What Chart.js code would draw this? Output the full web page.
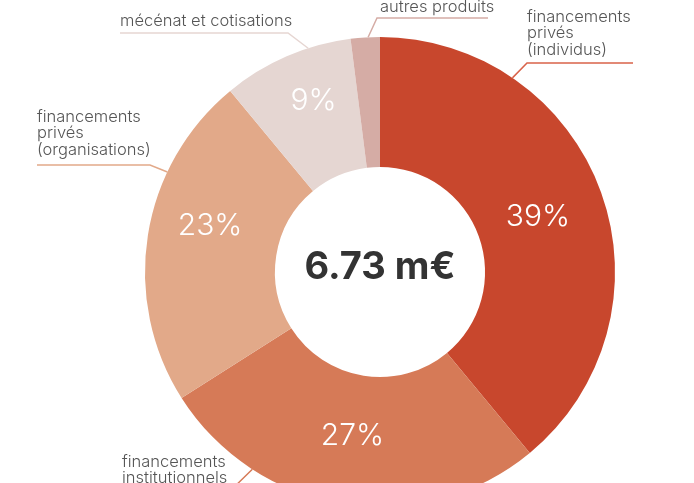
<!DOCTYPE html>
<html>
<head>
<meta charset="utf-8">
<script src="https://cdn.jsdelivr.net/npm/chart.js"></script>
<style>
  html, body { margin: 0; padding: 0; background: #fff; overflow: hidden; }
  #wrap { width: 694px; height: 483px; overflow: hidden; }
  canvas { display: block; }
</style>
</head>
<body>
<div id="wrap"><canvas id="chart" width="694" height="520"></canvas></div>
<script>
// data
const categories = [
    "financements privés (individus)",
    "financements institutionnels",
    "financements privés (organisations)",
    "mécénat et cotisations",
    "autres produits",
];
const shares = [39, 27, 23, 9, 2];
const percentLabels = ["39%", "27%", "23%", "9%", ""];
const totalLabel = "6.73 m€";

const sliceColors = ["#c8472d", "#d67a57", "#e2a989", "#e5d6d2", "#d5aca5"];
const leaderColors = ["#d9634a", "#d67a57", "#e2a989", "#e6d6d2", "#d5aca5"];

// label layout: text lines, text x, first line centre y, anchor angle on the ring (deg from top),
// elbow point and far end of the horizontal run
const labelLayout = [
    { lines: ["financements", "privés", "(individus)"], x: 527, y: 17, angle: 34.3, elbow: [527, 63], end: 633 },
    { lines: ["financements", "institutionnels"], x: 122, y: 462, angle: 212.9, elbow: [227, 494], end: 122 },
    { lines: ["financements", "privés", "(organisations)"], x: 37, y: 117, angle: 295.2, elbow: [150, 165], end: 37 },
    { lines: ["mécénat et cotisations"], x: 120, y: 21, angle: 342.2, elbow: [288, 33], end: 120 },
    { lines: ["autres produits"], x: 380, y: 7, angle: 357.1, elbow: [377, 18], end: 488 },
];
// nudges for the percentage labels
const pctShift = [[-2, 3], [-1, -4], [-2, -19], [1, -15], [0, 0]];

const labelsPlugin = {
    id: "labels",
    afterDatasetsDraw(chart) {
        const ctx = chart.ctx;
        const arcs = chart.getDatasetMeta(0).data;
        const cx = arcs[0].x, cy = arcs[0].y;
        const outer = arcs[0].outerRadius, inner = arcs[0].innerRadius;

        ctx.save();
        // percentages
        ctx.fillStyle = "#ffffff";
        ctx.font = "300 30px Inter, 'Liberation Sans', sans-serif";
        ctx.textAlign = "center";
        ctx.textBaseline = "middle";
        arcs.forEach((arc, i) => {
            if (!percentLabels[i]) return;
            const mid = (arc.startAngle + arc.endAngle) / 2;
            const r = (inner + outer) / 2;
            ctx.fillText(percentLabels[i],
                cx + Math.cos(mid) * r + pctShift[i][0],
                cy + Math.sin(mid) * r + pctShift[i][1]);
        });

        // centre total
        ctx.fillStyle = "#333333";
        ctx.font = "700 38px Inter, 'Liberation Sans', sans-serif";
        ctx.fillText(totalLabel, cx, cy - 4);

        // category labels with leader lines
        ctx.lineWidth = 1.5;
        labelLayout.forEach((l, i) => {
            const a = (l.angle - 90) * Math.PI / 180;
            const px = cx + Math.cos(a) * outer;
            const py = cy + Math.sin(a) * outer;
            ctx.strokeStyle = leaderColors[i];
            ctx.beginPath();
            ctx.moveTo(px, py);
            ctx.lineTo(l.elbow[0], l.elbow[1]);
            ctx.lineTo(l.end, l.elbow[1]);
            ctx.stroke();

            ctx.fillStyle = "#555555";
            ctx.font = "300 16.5px Inter, 'Liberation Sans', sans-serif";
            ctx.textAlign = "left";
            l.lines.forEach((t, k) => ctx.fillText(t, l.x, l.y + k * 16.5));
        });
        ctx.restore();
    },
};

new Chart(document.getElementById("chart"), {
    type: "doughnut",
    data: {
        labels: categories,
        datasets: [
            {
                data: shares,
                backgroundColor: sliceColors,
                borderWidth: 0,
            },
        ],
    },
    options: {
        responsive: false,
        animation: false,
        cutout: "44.7%",
        layout: {
            padding: { left: 145, top: 37, right: 79, bottom: 13 },
        },
        plugins: {
            legend: { display: false },
            tooltip: { enabled: false },
        },
    },
    plugins: [labelsPlugin],
});
</script>
</body>
</html>
